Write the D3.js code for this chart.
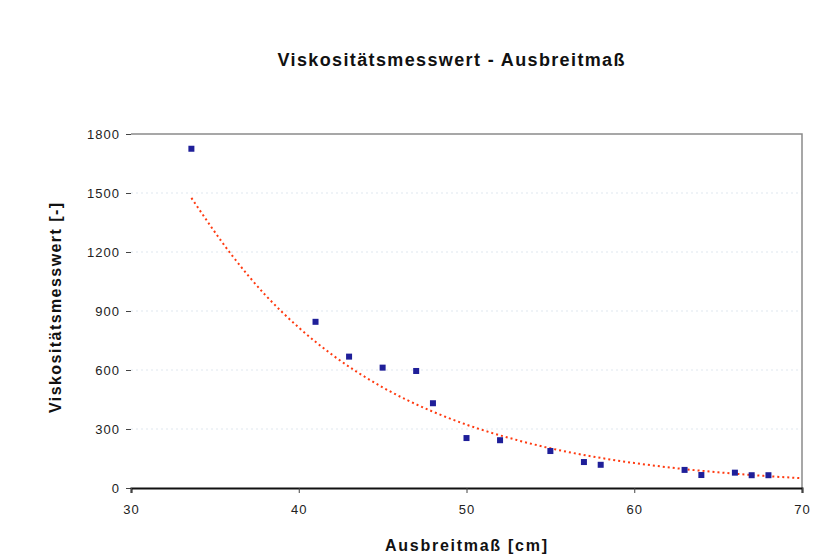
<!DOCTYPE html>
<html>
<head>
<meta charset="utf-8">
<script src="https://cdn.jsdelivr.net/npm/d3@7"></script>
<style>
  html, body { margin: 0; padding: 0; background: #ffffff; }
  svg { display: block; font-family: "Liberation Sans", Arial, sans-serif; }
</style>
</head>
<body>
<svg id="chart" width="813" height="559"></svg>
<script>
// ---- data ----
const ausbreitmass = [33.6, 41, 43, 45, 47, 48, 50, 52, 55, 57, 58, 63, 64, 66, 67, 68];
const viskositaet  = [1725, 845, 668, 612, 595, 431, 254, 243, 188, 132, 118, 92, 66, 78, 65, 65];
// exponential trend line
const trendX = [33.6, 36, 38, 40, 42, 45, 48, 50, 53, 55, 58, 60, 63, 65, 68, 70];
const trendY = [1475, 1185, 982, 816, 677, 512, 388, 322, 244, 202, 153, 127, 96, 80, 60, 50];
const xTicks = [30, 40, 50, 60, 70];
const yTicks = [0, 300, 600, 900, 1200, 1500, 1800];
const titleText = "Viskositätsmesswert - Ausbreitmaß";
const xLabel = "Ausbreitmaß [cm]";
const yLabel = "Viskositätsmesswert [-]";

const svg = d3.select("#chart");
const pLeft = 131, pRight = 802, pTop = 134, pBottom = 488;

const x = d3.scaleLinear().domain([30, 70]).range([pLeft, pRight]);
const y = d3.scaleLinear().domain([0, 1800]).range([pBottom, pTop]);

// gridlines
svg.append("g").selectAll("line").data(yTicks.filter(d => d > 0 && d < 1800)).join("line")
  .attr("x1", pLeft).attr("x2", pRight)
  .attr("y1", d => y(d)).attr("y2", d => y(d))
  .attr("stroke", "#dfe7f0").attr("stroke-width", 1.2).attr("stroke-dasharray", "2,3");

// plot frame (top & right)
svg.append("path")
  .attr("d", `M${pLeft},${pTop}H${pRight}V${pBottom}`)
  .attr("fill", "none").attr("stroke", "#8a8a8a").attr("stroke-width", 1.5);

// y axis (ticks + labels, no domain line)
const yAxis = d3.axisLeft(y).tickValues(yTicks).tickSize(5).tickPadding(6).tickFormat(d3.format("d"));
const gy = svg.append("g").attr("transform", `translate(${pLeft},0)`).call(yAxis);
gy.select(".domain").remove();
gy.selectAll(".tick line").attr("stroke", "#444");
gy.selectAll("text").attr("font-size", 13).attr("letter-spacing", 1).attr("fill", "#222")
  .attr("font-family", "Liberation Sans, Arial, sans-serif");

// x axis
const xAxis = d3.axisBottom(x).tickValues(xTicks).tickSize(5).tickPadding(12).tickFormat(d3.format("d"));
const gx = svg.append("g").attr("transform", `translate(0,${pBottom})`).call(xAxis);
gx.select(".domain").attr("stroke", "#111").attr("stroke-width", 2);
gx.selectAll(".tick line").attr("stroke", "#444");
gx.selectAll("text").attr("font-size", 13).attr("letter-spacing", 1).attr("fill", "#222")
  .attr("font-family", "Liberation Sans, Arial, sans-serif");

// trend line
const trend = trendX.map((d, i) => [d, trendY[i]]);
svg.append("path")
  .datum(trend)
  .attr("d", d3.line().x(d => x(d[0])).y(d => y(d[1])).curve(d3.curveMonotoneX))
  .attr("fill", "none").attr("stroke", "#ff3a10").attr("stroke-width", 2)
  .attr("stroke-dasharray", "2,3");

// data points
const pts = ausbreitmass.map((d, i) => [d, viskositaet[i]]);
svg.append("g").selectAll("rect").data(pts).join("rect")
  .attr("x", d => x(d[0]) - 3).attr("y", d => y(d[1]) - 3)
  .attr("width", 6).attr("height", 6)
  .attr("fill", "#1f1f99");

// title
svg.append("text").attr("x", 451).attr("y", 66).attr("text-anchor", "middle")
  .attr("font-size", 18).attr("font-weight", "bold").attr("fill", "#111")
  .attr("textLength", 347).attr("lengthAdjust", "spacing")
  .text(titleText);

// x label
svg.append("text").attr("x", 466).attr("y", 551).attr("text-anchor", "middle")
  .attr("font-size", 16).attr("font-weight", "bold").attr("fill", "#111")
  .attr("textLength", 162).attr("lengthAdjust", "spacing")
  .text(xLabel);

// y label
svg.append("text").attr("transform", "translate(61,308) rotate(-90)").attr("text-anchor", "middle")
  .attr("font-size", 16).attr("font-weight", "bold").attr("fill", "#111")
  .attr("textLength", 210).attr("lengthAdjust", "spacing")
  .text(yLabel);
</script>
</body>
</html>
